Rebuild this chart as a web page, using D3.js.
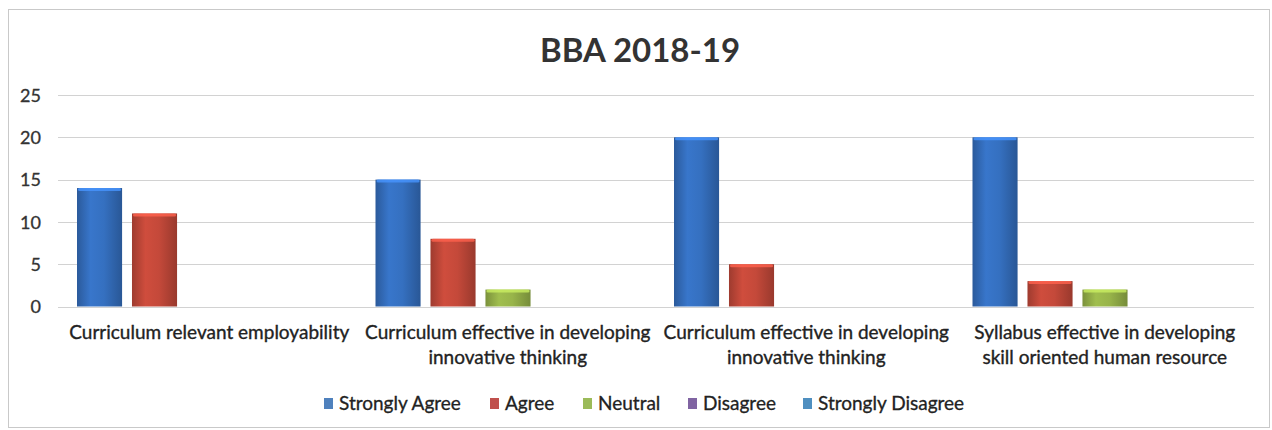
<!DOCTYPE html>
<html>
<head>
<meta charset="utf-8">
<script src="https://cdn.jsdelivr.net/npm/d3@7"></script>
<style>
  html, body { margin: 0; padding: 0; background: #fff; }
  svg { display: block; }
  text { font-family: Lato, "Open Sans", sans-serif; }
</style>
</head>
<body>
<svg id="chart" width="1272" height="430"></svg>
<script>
const title = "BBA 2018-19";
const categories = [
  ["Curriculum relevant employability"],
  ["Curriculum effective in developing", "innovative thinking"],
  ["Curriculum effective in developing", "innovative thinking"],
  ["Syllabus effective in developing", "skill oriented human resource"]
];
const seriesNames = ["Strongly Agree", "Agree", "Neutral", "Disagree", "Strongly Disagree"];
const stronglyAgree    = [14, 15, 20, 20];
const agree            = [11, 8, 5, 3];
const neutral          = [0, 2, 0, 2];
const disagree         = [0, 0, 0, 0];
const stronglyDisagree = [0, 0, 0, 0];
const yTicks = [0, 5, 10, 15, 20, 25];
const seriesColors = ["#3570c0", "#c4493a", "#98b44a", "#8064a2", "#4a8cc4"];
const legendColors = ["#4f81bd", "#c0504d", "#9bbb59", "#8064a2", "#4f8fc0"];

const seriesValues = [stronglyAgree, agree, neutral, disagree, stronglyDisagree];

const svg = d3.select("#chart");

// frame
svg.append("rect").attr("x", 8.5).attr("y", 9.5).attr("width", 1261).attr("height", 418)
  .attr("fill", "#fff").attr("stroke", "#c9c9c9").attr("stroke-width", 1);

// title
svg.append("text").attr("x", 640).attr("y", 62).attr("text-anchor", "middle")
  .attr("font-size", 33).attr("font-weight", "bold").attr("fill", "#333").text(title);

const plotLeft = 60, plotRight = 1254;
const y = d3.scaleLinear().domain([0, 25]).range([306.5, 95]);
const x0 = d3.scaleBand().domain(d3.range(categories.length)).range([plotLeft, plotRight]);
const x1 = d3.scaleBand().domain(d3.range(seriesNames.length))
  .range([17, 282]).paddingInner(0.18);

// gradients
const defs = svg.append("defs");
seriesColors.forEach((c, i) => {
  const g = defs.append("linearGradient").attr("id", "g" + i)
    .attr("x1", "0").attr("x2", "1").attr("y1", "0").attr("y2", "0");
  const base = d3.color(c);
  g.append("stop").attr("offset", "0%").attr("stop-color", base.darker(0.6));
  g.append("stop").attr("offset", "30%").attr("stop-color", base.brighter(0.15));
  g.append("stop").attr("offset", "60%").attr("stop-color", base);
  g.append("stop").attr("offset", "100%").attr("stop-color", base.darker(0.7));
});

// gridlines
svg.append("g").selectAll("line").data(yTicks).join("line")
  .attr("x1", plotLeft - 2).attr("x2", plotRight)
  .attr("y1", d => Math.round(y(d)) + 0.5).attr("y2", d => Math.round(y(d)) + 0.5)
  .attr("stroke", "#d2d2d2").attr("stroke-width", 1);

// y axis labels
const yAxis = d3.axisLeft(y).tickValues(yTicks).tickSize(0).tickPadding(0);
const yg = svg.append("g").attr("transform", "translate(41,0)").call(yAxis);
yg.select(".domain").remove();
yg.selectAll("text").attr("font-size", 18).attr("fill", "#333")
  .attr("font-family", "Lato, 'Open Sans', sans-serif").attr("dy", "0.35em")
  .attr("stroke", "#333").attr("stroke-width", 0.3);

// bars
const groups = svg.append("g").selectAll("g").data(categories).join("g")
  .attr("transform", (d, i) => `translate(${x0(i)},0)`);
groups.each(function(cat, ci) {
  const g = d3.select(this);
  seriesValues.forEach((vals, si) => {
    const v = vals[ci];
    if (!v) return;
    const bx = x1(si), bw = x1.bandwidth();
    const top = y(v), bot = y(0);
    g.append("rect").attr("x", bx).attr("y", top).attr("width", bw)
      .attr("height", bot - top).attr("fill", `url(#g${si})`);
    // top cap highlight
    g.append("rect").attr("x", bx + 1).attr("y", top).attr("width", bw - 2)
      .attr("height", 3).attr("rx", 1.5)
      .attr("fill", d3.color(seriesColors[si]).brighter(0.8)).attr("opacity", 0.8);
  });
});

// category labels
groups.each(function(lines, ci) {
  const t = d3.select(this).append("text")
    .attr("x", x0.bandwidth() / 2).attr("y", 339)
    .attr("text-anchor", "middle").attr("font-size", 19).attr("fill", "#222")
    .attr("stroke", "#222").attr("stroke-width", 0.35);
  lines.forEach((ln, li) => {
    t.append("tspan").attr("x", x0.bandwidth() / 2).attr("dy", li === 0 ? 0 : 25).text(ln);
  });
});

// legend
const legendX = [324, 490, 583, 688, 803];
const lg = svg.append("g").selectAll("g").data(seriesNames).join("g")
  .attr("transform", (d, i) => `translate(${legendX[i]},0)`);
lg.append("rect").attr("x", 0).attr("y", 398).attr("width", 9).attr("height", 11)
  .attr("fill", (d, i) => legendColors[i]);
lg.append("text").attr("x", 15).attr("y", 410).attr("font-size", 19).attr("fill", "#222")
  .attr("stroke", "#222").attr("stroke-width", 0.3)
  .text(d => d);
</script>
</body>
</html>
